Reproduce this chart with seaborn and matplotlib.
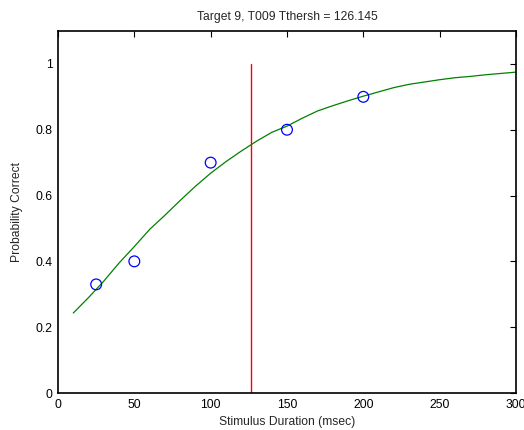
import matplotlib
matplotlib.use("Agg")
import matplotlib.pyplot as plt
import seaborn as sns
import pandas as pd

# Fitted curve
fit_x = [10, 20, 30, 40, 50, 60, 70, 80, 90, 100, 110, 120, 130, 140, 150,
         160, 170, 180, 190, 200, 210, 220, 230, 240, 250, 260, 270, 280, 290, 300]
fit_y = [0.243, 0.29, 0.34, 0.395, 0.445, 0.497, 0.54, 0.585, 0.628, 0.668,
         0.703, 0.735, 0.765, 0.792, 0.811, 0.835, 0.857, 0.873, 0.888, 0.902,
         0.915, 0.928, 0.938, 0.945, 0.952, 0.958, 0.962, 0.967, 0.971, 0.975]

# Observed data
obs_x = [25, 50, 100, 150, 200]
obs_y = [0.33, 0.40, 0.70, 0.80, 0.90]

threshold = 126.145
title = "Target 9, T009 Tthersh = 126.145"
xticks = [0, 50, 100, 150, 200, 250, 300]
yticks = [0, 0.2, 0.4, 0.6, 0.8, 1]
ytick_labels = ["0", "0.2", "0.4", "0.6", "0.8", "1"]

sns.set_theme(style="white")
plt.rcParams["font.family"] = ["Liberation Sans", "DejaVu Sans"]

fig = plt.figure(figsize=(5.24, 4.30), dpi=100)
ax = fig.add_axes([58 / 524, 37 / 430, 458 / 524, 362 / 430])

fit_df = pd.DataFrame({"x": fit_x, "y": fit_y})
obs_df = pd.DataFrame({"x": obs_x, "y": obs_y})

sns.lineplot(data=fit_df, x="x", y="y", ax=ax, color="#008000", linewidth=0.9,
             estimator=None, sort=False)
ax.plot([threshold, threshold], [0, 1], color="#ff0000", linewidth=1.0)
sns.scatterplot(data=obs_df, x="x", y="y", ax=ax, marker="o", s=60,
                facecolor="none", edgecolor="#0000ff", linewidth=0.9, zorder=5)

ax.set_xlim(0, 300)
ax.set_ylim(0, 1.1)
ax.set_xticks(xticks)
ax.set_xticklabels([str(v) for v in xticks])
ax.set_yticks(yticks)
ax.set_yticklabels(ytick_labels)
ax.tick_params(direction="in", length=4, width=0.8, top=True, right=True,
               labelsize=8.7, colors="black", pad=4)
for s in ax.spines.values():
    s.set_visible(True)
    s.set_color("black")
    s.set_linewidth(1.2)
ax.set_xlabel("Stimulus Duration (msec)", fontsize=8.7, labelpad=4)
ax.set_ylabel("Probability Correct", fontsize=8.7, labelpad=9)
ax.set_title(title, fontsize=8.7, pad=8)
ax.grid(False)

fig.savefig("out.png", dpi=100)
